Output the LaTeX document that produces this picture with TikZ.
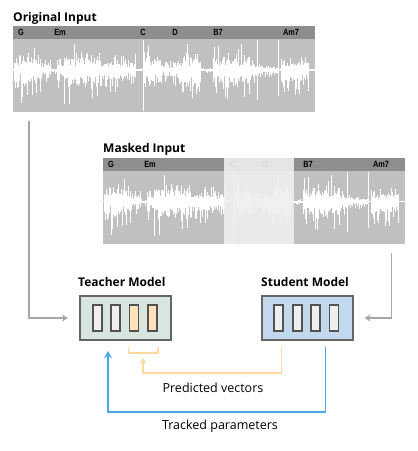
\documentclass[tikz,border=0pt]{standalone}
\usepackage{fontspec}
\setmainfont{Open Sans}
\newfontfamily\chordfont[FakeStretch=0.82]{Liberation Sans}
\usepackage{tikz}
\usetikzlibrary{arrows.meta, positioning, calc}
\usepackage{xcolor}
\definecolor{panelgray}{HTML}{C0C0C0}
\definecolor{bargray}{HTML}{8E8E8E}
\definecolor{teachfill}{HTML}{D9E6DF}
\definecolor{studfill}{HTML}{C2D8EC}
\definecolor{cellfill}{HTML}{EFEFEF}
\definecolor{predfill}{HTML}{FDE2BC}
\definecolor{predline}{HTML}{FDD9A0}
\definecolor{trackline}{HTML}{4BA8EA}
\definecolor{linkgray}{HTML}{A6A6A6}
\definecolor{edgegray}{HTML}{666666}
\tikzset{
  panel/.style={
    rectangle, fill=panelgray, inner sep=0pt, anchor=north west,
    minimum width=302pt, minimum height=86pt
  },
  bar/.style={
    rectangle, fill=bargray, inner sep=0pt, anchor=north west,
    minimum width=302pt, minimum height=13pt
  },
  chord/.style={font=\chordfont\bfseries\fontsize{9}{10}\selectfont, inner sep=0pt},
  heading/.style={font=\bfseries\fontsize{12}{14}\selectfont, inner sep=0pt, anchor=base west},
  model/.style={
    rectangle, draw=edgegray, line width=2pt,
    minimum width=91pt, minimum height=44pt, inner sep=0pt
  },
  cell/.style={
    rectangle, draw=black!68, line width=1.8pt, fill=cellfill,
    minimum width=9pt, minimum height=26pt, inner sep=0pt
  },
  link/.style={-{Stealth[length=6pt,width=7pt]}, line width=1.6pt, draw=linkgray},
  predarrow/.style={-{Stealth[length=6pt,width=7pt]}, line width=1.6pt, draw=predline},
  trackarrow/.style={-{Stealth[length=7pt,width=8pt]}, line width=1.8pt, draw=trackline},
  wave/.style={draw=white, line width=1pt},
  caption/.style={font=\fontsize{12.5}{14}\selectfont, inner sep=0pt}
}
% one waveform, drawn round y=0
\newcommand\drawwave{%
  \pgfmathsetseed{4711}%
  \draw[wave, line width=1.4pt] (13,0) -- (315,0);
  \foreach \xa/\xb/\amp in {14/20/22, 21/40/28, 41/50/12, 51/56/4, 57/62/20,
      63/100/28, 101/135/18, 136/141/3, 144/160/26, 161/172/12, 173/180/18,
      181/200/28, 201/212/3, 213/250/28, 251/262/13, 263/277/7, 281/308/22}{%
    \foreach \x in {\xa,...,\xb}{%
      \pgfmathsetmacro\up{\amp*(0.14+0.24*rnd+0.62*rnd^4)}%
      \pgfmathsetmacro\dn{1.3*\amp*(0.14+0.24*rnd+0.62*rnd^4)}%
      \draw[wave] (\x,-\up) -- (\x,\dn);
    }}%
  \draw[wave] (143,-30) -- (143,41);
  \draw[wave] (257,-30) -- (257,30);
  \draw[wave] (278,-30) -- (278,26);
}

\begin{document}
\begin{tikzpicture}[x=1pt, y=-1pt]
  \useasboundingbox (0,0) rectangle (418,451);

  % original input
  \node[heading] (origlbl) at (13,21) {Original Input};
  \node[panel] (orig) at (13,26) {};
  \node[bar] (origbar) at (13,26) {};
  \foreach \cx/\cn in {21/G, 60/Em, 143/C, 175/D, 218/B7, 291/Am7}
    \node[chord] at (\cx,32.5) {\cn};
  \begin{scope}[shift={(0,70)}]
    \drawwave
  \end{scope}

  % masked input
  \node[heading] (masklbl) at (103,152) {Masked Input};
  \node[panel] (masked) at (103,157.5) {};
  \node[bar] (maskbar) at (103,157.5) {};
  \begin{scope}[shift={(90,131.5)}]
    \foreach \cx/\cn in {21/G, 60/Em, 143/C, 175/D, 218/B7, 291/Am7}
      \node[chord] at (\cx,32.5) {\cn};
  \end{scope}
  \begin{scope}[shift={(90,201.5)}]
    \drawwave
  \end{scope}
  \node[rectangle, fill=cellfill, fill opacity=0.9, inner sep=0pt, anchor=north west,
    minimum width=70pt, minimum height=86pt] (gap) at (224,157.5) {};

  % models
  \node[heading] (teachlbl) at (78,286) {Teacher Model};
  \node[model, fill=teachfill] (teacher) at (125.5,318) {};
  \node[cell, xshift=-28.3pt] (t1) at (teacher.center) {};
  \node[cell, right=7.6pt of t1] (t2) {};
  \node[cell, fill=predfill, right=7.6pt of t2] (t3) {};
  \node[cell, fill=predfill, right=7.6pt of t3] (t4) {};

  \node[heading] (studlbl) at (261,286) {Student Model};
  \node[model, fill=studfill] (student) at (307,318) {};
  \node[cell, xshift=-28.3pt] (s1) at (student.center) {};
  \node[cell, right=7.6pt of s1] (s2) {};
  \node[cell, right=7.6pt of s2] (s3) {};
  \node[cell, right=7.6pt of s3] (s4) {};

  % inputs into the models
  \draw[link, shorten <=9pt, shorten >=11pt] ([xshift=16pt]orig.south west) |- (teacher.west);
  \draw[link, shorten <=9pt, shorten >=11pt] ([xshift=-14pt]masked.south east) |- (student.east);

  % predicted vectors
  \coordinate (bl) at ($(t3.south west)+(0,15)$);
  \coordinate (br) at ($(t4.south east)+(0,15)$);
  \coordinate (bm) at ($(bl)!0.5!(br)+(0,6)$);
  \draw[predline, line width=1.5pt] (bl) -- ++(0,6) -| (br);
  \draw[predarrow, shorten >=5pt] ($(student.south west)+(21,6)$) -- ++(0,26) -| (bm);
  \node[caption] (predlbl) at (213,388) {Predicted vectors};

  % tracked parameters
  \draw[trackarrow, shorten >=10pt] ($(student.south west)+(65,6)$) -- ++(0,65)
    -| ($(teacher.south west)+(29,0)$);
  \node[caption] (tracklbl) at (220,426) {Tracked parameters};
\end{tikzpicture}
\end{document}
